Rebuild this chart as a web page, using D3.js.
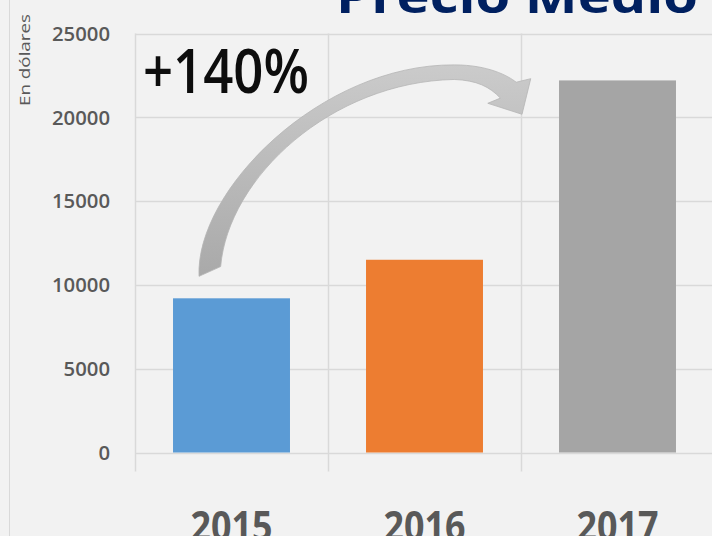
<!DOCTYPE html>
<html>
<head>
<meta charset="utf-8">
<script src="https://cdn.jsdelivr.net/npm/d3@7"></script>
<style>
  html, body { margin: 0; padding: 0; background: #f2f2f2; overflow: hidden; }
  svg { display: block; }
</style>
</head>
<body>
<script>
// Precio medio por año (en dólares)
const years = ["2015", "2016", "2017"];
const prices = [9200, 11500, 22200];
const barColors = ["#5b9bd5", "#ed7d31", "#a5a5a5"];
const yTicks = [0, 5000, 10000, 15000, 20000, 25000];
const titleText = "Precio Medio";
const yLabel = "En dólares";
const changeLabel = "+140%";

const w = 712;
const h = 536;
const plot = {left: 135, right: 714, top: 33.5, bottom: 452.5};

const svg = d3.select("body")
    .append("svg")
    .attr("width", w)
    .attr("height", h);

const xScale = d3.scaleBand()
    .domain(years)
    .range([plot.left, plot.right])
    .paddingInner(0.394)
    .paddingOuter(0.197);

const yScale = d3.scaleLinear()
    .domain([0, 25000])
    .range([plot.bottom, plot.top]);

const step = xScale.step();
const gridColor = "#d9d9d9";

// left frame line
svg.append("line")
    .attr("x1", 9.5).attr("x2", 9.5)
    .attr("y1", 0).attr("y2", h)
    .attr("stroke", gridColor);

// horizontal gridlines
svg.append("g")
    .selectAll("line")
    .data(yTicks)
    .join("line")
    .attr("x1", plot.left)
    .attr("x2", w)
    .attr("y1", d => Math.round(yScale(d)) + 0.5)
    .attr("y2", d => Math.round(yScale(d)) + 0.5)
    .attr("stroke", gridColor)
    .attr("stroke-width", 1.5);

// vertical category boundaries (with ticks below the axis)
const bounds = d3.range(years.length + 1).map(i => plot.left + i * step);
svg.append("g")
    .selectAll("line")
    .data(bounds)
    .join("line")
    .attr("x1", d => Math.round(d) + 0.5)
    .attr("x2", d => Math.round(d) + 0.5)
    .attr("y1", plot.top)
    .attr("y2", plot.bottom + 19)
    .attr("stroke", gridColor)
    .attr("stroke-width", 1.5);

// bars
svg.append("g")
    .selectAll("rect")
    .data(prices)
    .join("rect")
    .attr("x", (d, i) => xScale(years[i]))
    .attr("y", d => yScale(d))
    .attr("width", xScale.bandwidth())
    .attr("height", d => yScale(0) - yScale(d))
    .attr("fill", (d, i) => barColors[i]);

// y tick labels
svg.append("g")
    .selectAll("text")
    .data(yTicks)
    .join("text")
    .attr("x", 110)
    .attr("y", d => yScale(d))
    .attr("dy", "0.36em")
    .attr("text-anchor", "end")
    .attr("font-family", "Open Sans, sans-serif")
    .attr("font-weight", 600)
    .attr("font-size", 20)
    .attr("fill", "#595959")
    .attr("textLength", d => String(d).length * 11.6)
    .attr("lengthAdjust", "spacingAndGlyphs")
    .text(d => d);

// x category labels (cut by the bottom edge, as in the original)
svg.append("g")
    .selectAll("text")
    .data(years)
    .join("text")
    .attr("x", d => xScale(d) + xScale.bandwidth() / 2)
    .attr("y", 541)
    .attr("text-anchor", "middle")
    .attr("font-family", "Open Sans, sans-serif")
    .attr("font-weight", 700)
    .attr("font-size", 42)
    .attr("fill", "#595959")
    .attr("textLength", 82)
    .attr("lengthAdjust", "spacingAndGlyphs")
    .text(d => d);

// y axis title
svg.append("text")
    .attr("transform", "translate(30,60) rotate(-90)")
    .attr("text-anchor", "middle")
    .attr("font-family", "Open Sans, sans-serif")
    .attr("font-size", 15)
    .attr("fill", "#595959")
    .attr("textLength", 92)
    .attr("lengthAdjust", "spacingAndGlyphs")
    .text(yLabel);

// chart title (cut off at the top)
svg.append("text")
    .attr("x", 336)
    .attr("y", 13)
    .attr("font-family", "Open Sans, sans-serif")
    .attr("font-weight", 700)
    .attr("font-size", 46)
    .attr("fill", "#002060")
    .attr("textLength", 362)
    .attr("lengthAdjust", "spacingAndGlyphs")
    .text(titleText);

// curved arrow from 2015 to 2017
const defs = svg.append("defs");
const grad = defs.append("linearGradient")
    .attr("id", "arrowGrad")
    .attr("x1", 0).attr("y1", 0).attr("x2", 0).attr("y2", 1);
grad.append("stop").attr("offset", "0%").attr("stop-color", "#cbcbcb");
grad.append("stop").attr("offset", "100%").attr("stop-color", "#a9a9a9");

const tail = [xScale("2015") + 26, yScale(prices[0]) - 22];
const tip = [xScale("2017") - 37, yScale(20000) - 3];
const dx = tip[0] - tail[0], dy = tip[1] - tail[1];
const P = (fx, fy) => [tail[0] + fx * dx, tail[1] + fy * dy];
// shape expressed as fractions of the tail->tip span
const pt = (a) => a.join(",");
const shape =
    "M" + pt(P(0, 0)) +
    "C" + pt(P(-0.012, 0.53)) + " " + pt(P(0.378, 1.31)) + " " + pt(P(0.790, 1.305)) +
    "C" + pt(P(0.896, 1.305)) + " " + pt(P(0.957, 1.237)) + " " + pt(P(0.982, 1.198)) +
    "L" + pt(P(1.027, 1.22)) +
    "L" + pt(P(1, 1)) +
    "L" + pt(P(0.894, 1.068)) +
    "L" + pt(P(0.933, 1.10)) +
    "C" + pt(P(0.900, 1.17)) + " " + pt(P(0.860, 1.21)) + " " + pt(P(0.790, 1.215)) +
    "C" + pt(P(0.41, 1.20)) + " " + pt(P(0.09, 0.61)) + " " + pt(P(0.067, 0.06)) +
    "Z";
svg.append("path")
    .attr("d", shape)
    .attr("fill", "url(#arrowGrad)")
    .attr("stroke", "#b5b5b5")
    .attr("stroke-width", 0.8);

// percentage annotation
svg.append("text")
    .attr("x", 143)
    .attr("y", 93)
    .attr("font-family", "Open Sans, sans-serif")
    .attr("font-weight", 600)
    .attr("font-size", 62)
    .attr("fill", "#0d0d0d")
    .attr("textLength", 166)
    .attr("lengthAdjust", "spacingAndGlyphs")
    .text(changeLabel);
</script>
</body>
</html>
